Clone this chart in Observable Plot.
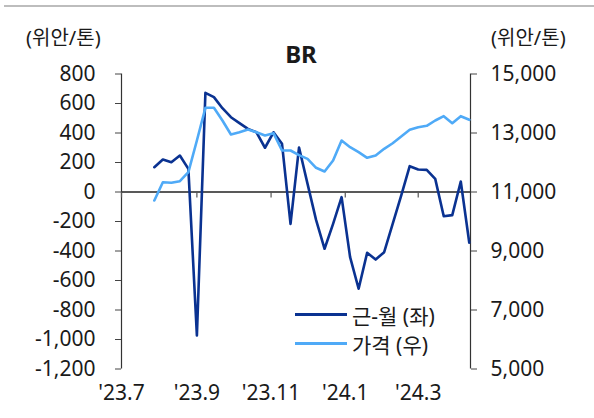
<!DOCTYPE html>
<html>
<head>
<meta charset="utf-8">
<script src="https://cdn.jsdelivr.net/npm/d3@7"></script>
<script src="https://cdn.jsdelivr.net/npm/@observablehq/plot@0.6"></script>
<style>
  body { margin: 0; background: #fff; }
  #wrap { position: relative; width: 594px; height: 418px; overflow: hidden;
          font-family: "Noto Sans", "Noto Sans CJK KR", sans-serif; color: #1a1a1a; }
  #topline { position: absolute; left: 4px; right: 0; top: 5px; height: 2px; background: #bdbdbd; }
  #chart { position: absolute; left: 0; top: 0; }
  .ov { position: absolute; white-space: nowrap; line-height: 1; }
  #title { left: 0; width: 602px; text-align: center; top: 42px; font-size: 24px; font-weight: 700; }
  .unit { font-size: 20px; top: 28px; }
  #unitL { left: 26px; }
  #unitR { left: 491px; }
  #legend { position: absolute; left: 295px; top: 300px; font-size: 21px; }
  .lrow { display: flex; align-items: center; height: 29.3px; }
  .lsw { width: 52px; height: 3px; margin-right: 5px; }
</style>
</head>
<body>
<div id="wrap">
  <div id="topline"></div>
  <div id="chart"></div>
  <div class="ov" id="title">BR</div>
  <div class="ov unit" id="unitL">(위안/톤)</div>
  <div class="ov unit" id="unitR">(위안/톤)</div>
  <div id="legend"></div>
</div>
<script>
// ---- data (weekly) ----
const dates = [
  "2023-07-28","2023-08-04","2023-08-11","2023-08-18","2023-08-25",
  "2023-09-01","2023-09-08","2023-09-15","2023-09-22","2023-09-29",
  "2023-10-06","2023-10-13","2023-10-20","2023-10-27",
  "2023-11-03","2023-11-10","2023-11-17","2023-11-24",
  "2023-12-01","2023-12-08","2023-12-15","2023-12-22","2023-12-29",
  "2024-01-05","2024-01-12","2024-01-19","2024-01-26",
  "2024-02-02","2024-02-09","2024-02-16","2024-02-23",
  "2024-03-01","2024-03-08","2024-03-15","2024-03-22","2024-03-29",
  "2024-04-05","2024-04-12"
];
// 근-월 spread (left axis, 위안/톤)
const spread = [
  168, 220, 202, 247, 157,
  -973, 672, 643, 568, 507,
  467, 428, 405, 300,
  405, 327, -216, 302,
  55, -189, -385, -216, -35,
  -442, -656, -412, -458,
  -408, -216, -24, 175,
  153, 150, 89, -164, -157,
  71, -344
];
// 가격 price (right axis, 위안/톤)
const price = [
  10712, 11333, 11312, 11367, 11672,
  12746, 13854, 13854, 13424, 12949,
  13027, 13119, 13027, 12915,
  12994, 12407, 12407, 12250,
  12124, 11820, 11695, 12068, 12746,
  12519, 12350, 12159, 12237,
  12463, 12653, 12881, 13108,
  13197, 13243, 13424, 13570, 13332,
  13570, 13447
];
const seriesNames = ["근-월 (좌)", "가격 (우)"];
const seriesColors = ["#0a3291", "#4faaf7"];
const leftTicks = [-1200, -1000, -800, -600, -400, -200, 0, 200, 400, 600, 800];
const rightTicks = [5000, 7000, 9000, 11000, 13000, 15000];
const xTickStrings = ["2023-07-01", "2023-09-01", "2023-11-01", "2024-01-01", "2024-03-01"];
const xLabels = ["'23.7", "'23.9", "'23.11", "'24.1", "'24.3"];
const xDomainStrings = ["2023-07-01", "2024-04-13"];
const leftDomain = [-1200, 800];
const rightDomain = [5000, 15000];

// ---- layout ----
const W = 594, H = 418, mL = 121, mR = 124, mT = 73.5, mB = 49.5;
const tickPx = 6;

// ---- helpers ----
const toLeft = p => (p - rightDomain[0]) / (rightDomain[1] - rightDomain[0]) * (leftDomain[1] - leftDomain[0]) + leftDomain[0];
const toRight = v => (v - leftDomain[0]) / (leftDomain[1] - leftDomain[0]) * (rightDomain[1] - rightDomain[0]) + rightDomain[0];
const fmt = v => Math.round(v).toLocaleString("en-US");
const xTicks = xTickStrings.map(s => new Date(s));
const xDomain = xDomainStrings.map(s => new Date(s));
const data = dates.map((d, i) => ({date: new Date(d), spread: spread[i], price: price[i]}));
// tick length in y-data units (for the ticks that hang below the zero line)
const tickData = tickPx * (leftDomain[1] - leftDomain[0]) / (H - mT - mB);

const chart = Plot.plot({
  width: W,
  height: H,
  marginLeft: mL,
  marginRight: mR,
  marginTop: mT,
  marginBottom: mB,
  style: {fontFamily: '"Noto Sans", "Noto Sans CJK KR", sans-serif', fontSize: "21px", color: "#1a1a1a", background: "transparent", overflow: "visible"},
  x: {type: "utc", domain: xDomain},
  y: {domain: leftDomain},
  marks: [
    Plot.ruleX([xDomain[0]], {stroke: "#333", strokeWidth: 1.2}),
    Plot.ruleX([xDomain[1]], {stroke: "#333", strokeWidth: 1.2}),
    Plot.ruleY([0], {stroke: "#222", strokeWidth: 1.3}),
    Plot.ruleX(xTicks, {x: d => d, y1: 0, y2: -tickData, stroke: "#555", strokeWidth: 1.2}),
    Plot.axisY({ticks: leftTicks, anchor: "left", label: null, tickSize: tickPx, tickPadding: 20, tickFormat: fmt, stroke: "#444"}),
    Plot.axisY({ticks: rightTicks.map(toLeft), anchor: "right", label: null, tickSize: tickPx, tickPadding: 14, tickFormat: v => fmt(toRight(v)), stroke: "#444"}),
    Plot.axisX({ticks: xTicks, anchor: "bottom", label: null, tickSize: 0, tickPadding: 16,
      tickFormat: d => xLabels[xTicks.findIndex(t => +t === +d)]}),
    Plot.line(data, {x: "date", y: "spread", stroke: seriesColors[0], strokeWidth: 2.6}),
    Plot.line(data, {x: "date", y: d => toLeft(d.price), stroke: seriesColors[1], strokeWidth: 2.6})
  ]
});
document.getElementById("chart").appendChild(chart);

const legend = document.getElementById("legend");
seriesNames.forEach((name, i) => {
  const row = document.createElement("div");
  row.className = "lrow";
  const sw = document.createElement("div");
  sw.className = "lsw";
  sw.style.background = seriesColors[i];
  const tx = document.createElement("span");
  tx.textContent = name;
  row.appendChild(sw);
  row.appendChild(tx);
  legend.appendChild(row);
});
</script>
</body>
</html>
